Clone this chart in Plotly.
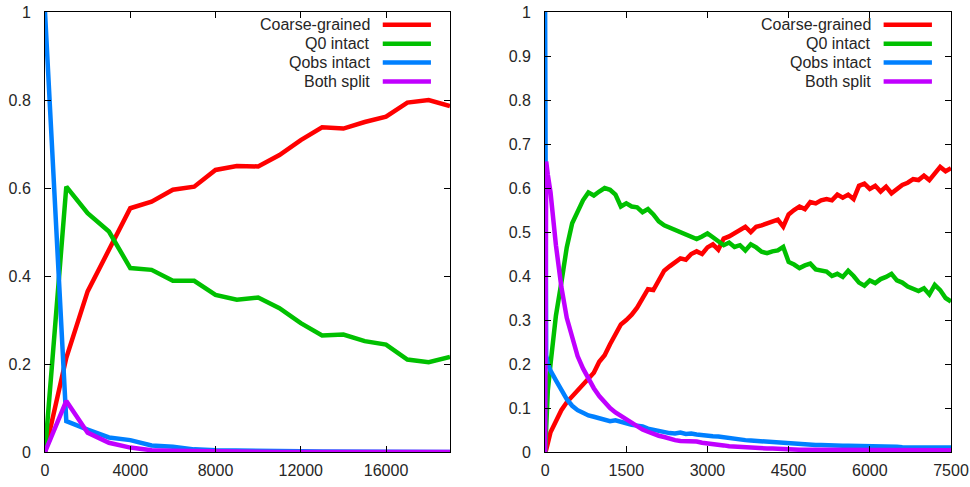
import plotly.graph_objects as go

# ---------------- data ----------------
series_names = ["Coarse-grained", "Q0 intact", "Qobs intact", "Both split"]
series_colors = ["#ff0000", "#00c000", "#0080ff", "#c000ff"]

# left panel
x_left = [0, 1000, 2000, 3000, 4000, 5000, 6000, 7000, 8000, 9000, 10000,
          11000, 12000, 13000, 14000, 15000, 16000, 17000, 18000, 19000]
red_left = [0, 0.214, 0.365, 0.46, 0.554, 0.569, 0.596, 0.603, 0.641, 0.65, 0.649,
            0.675, 0.709, 0.738, 0.735, 0.75, 0.762, 0.794, 0.80, 0.786]
green_left = [0, 0.603, 0.543, 0.501, 0.418, 0.414, 0.389, 0.389, 0.357, 0.346, 0.351,
              0.327, 0.293, 0.265, 0.267, 0.252, 0.244, 0.21, 0.204, 0.216]
blue_left = [1.0, 0.07, 0.051, 0.033, 0.027, 0.015, 0.012, 0.006, 0.004, 0.004, 0.004,
             0.002, 0.0015, 0.001, 0.001, 0.001, 0, 0, 0, 0]
purple_left = [0, 0.116, 0.044, 0.021, 0.01, 0.004, 0.003, 0.002, 0.002, 0.002, 0.001,
               0, 0, 0, 0, 0, 0, 0, 0, 0]

# right panel
x_right = [0, 20, 50] + list(range(100, 7600, 100))
red_right = [0.0, 0.005, 0.02,
             0.045, 0.07, 0.095, 0.113, 0.126, 0.14, 0.152, 0.168, 0.18, 0.205,
             0.22, 0.245, 0.268, 0.29, 0.3, 0.312, 0.328, 0.348, 0.37, 0.368,
             0.39, 0.412, 0.422, 0.432, 0.44, 0.437, 0.45, 0.456, 0.45, 0.465,
             0.472, 0.46, 0.485, 0.49, 0.497, 0.506, 0.512, 0.5, 0.512, 0.515,
             0.52, 0.525, 0.528, 0.512, 0.54, 0.55, 0.558, 0.552, 0.568, 0.565,
             0.572, 0.575, 0.572, 0.585, 0.578, 0.585, 0.575, 0.605, 0.61, 0.598,
             0.605, 0.592, 0.603, 0.588, 0.598, 0.607, 0.612, 0.62, 0.618, 0.628,
             0.618, 0.632, 0.648, 0.638, 0.645]
green_right = [0.0, 0.06, 0.14,
               0.2, 0.31, 0.385, 0.465, 0.52, 0.545, 0.572, 0.59, 0.583, 0.592,
               0.6, 0.596, 0.585, 0.558, 0.565, 0.558, 0.556, 0.545, 0.552, 0.54,
               0.524, 0.515, 0.51, 0.505, 0.5, 0.496, 0.49, 0.484, 0.49, 0.497,
               0.488, 0.48, 0.47, 0.476, 0.466, 0.47, 0.458, 0.472, 0.465, 0.455,
               0.452, 0.456, 0.458, 0.466, 0.432, 0.426, 0.418, 0.424, 0.428, 0.415,
               0.412, 0.41, 0.4, 0.405, 0.398, 0.412, 0.4, 0.385, 0.378, 0.39,
               0.384, 0.393, 0.398, 0.405, 0.39, 0.385, 0.376, 0.37, 0.366, 0.372,
               0.358, 0.38, 0.368, 0.35, 0.342]
blue_right = [1.0, 0.22, 0.2,
              0.185, 0.163, 0.14, 0.12, 0.105, 0.095, 0.089, 0.083, 0.08, 0.076,
              0.073, 0.07, 0.072, 0.068, 0.066, 0.062, 0.06, 0.058, 0.053, 0.05,
              0.048, 0.046, 0.043, 0.042, 0.044, 0.041, 0.042, 0.04, 0.038, 0.038,
              0.036, 0.035, 0.033, 0.032, 0.03, 0.029, 0.027, 0.026, 0.025, 0.024,
              0.023, 0.022, 0.021, 0.022, 0.02, 0.019, 0.019, 0.018, 0.017, 0.016,
              0.016, 0.015, 0.015, 0.015, 0.014, 0.014, 0.014, 0.013, 0.013, 0.013,
              0.012, 0.012, 0.012, 0.012, 0.012, 0.011, 0.011, 0.011, 0.011, 0.011,
              0.01, 0.01, 0.01, 0.01, 0.01]
purple_right = [0.0, 0.66, 0.63,
                0.59, 0.47, 0.375, 0.305, 0.26, 0.218, 0.19, 0.166, 0.145, 0.127,
                0.112, 0.1, 0.09, 0.082, 0.073, 0.066, 0.058, 0.051, 0.046, 0.041,
                0.037, 0.034, 0.03, 0.027, 0.025, 0.025, 0.024, 0.024, 0.021, 0.02,
                0.018, 0.016, 0.015, 0.013, 0.012, 0.012, 0.011, 0.01, 0.01, 0.009,
                0.008, 0.008, 0.007, 0.007, 0.006, 0.005, 0.005, 0.005, 0.005, 0.005,
                0.004, 0.004, 0.004, 0.004, 0.004, 0.004, 0.004, 0.004, 0.004, 0.004,
                0.004, 0.004, 0.004, 0.004, 0.004, 0.004, 0.004, 0.004, 0.004, 0.004,
                0.004, 0.004, 0.004, 0.004, 0.004]

left_tickvals_x = [0, 4000, 8000, 12000, 16000]
right_tickvals_x = [0, 1500, 3000, 4500, 6000, 7500]
left_tickvals_y = [0, 0.2, 0.4, 0.6, 0.8, 1]
right_tickvals_y = [0, 0.1, 0.2, 0.3, 0.4, 0.5, 0.6, 0.7, 0.8, 0.9, 1]

# ---------------- figure ----------------
FONT = "Liberation Sans, Arial, sans-serif"
TXT = "#262626"
LW = 4.5

fig = go.Figure()
left_series = [red_left, green_left, blue_left, purple_left]
right_series = [red_right, green_right, blue_right, purple_right]
for name, col, ys in zip(series_names, series_colors, left_series):
    fig.add_trace(go.Scatter(x=x_left, y=ys, mode="lines", name=name,
                             line=dict(color=col, width=LW), showlegend=False,
                             cliponaxis=False, xaxis="x", yaxis="y"))
for name, col, ys in zip(series_names, series_colors, right_series):
    fig.add_trace(go.Scatter(x=x_right, y=ys, mode="lines", name=name,
                             line=dict(color=col, width=LW), showlegend=False,
                             cliponaxis=False, xaxis="x2", yaxis="y2"))

axis_common = dict(showline=True, linecolor="black", linewidth=1, mirror="ticks",
                   ticks="inside", ticklen=6, tickcolor="black", tickwidth=1,
                   showgrid=False, zeroline=False, automargin=False,
                   tickfont=dict(family=FONT, size=16, color=TXT))

fig.update_layout(
    width=970, height=487,
    margin=dict(l=45, r=19, t=12, b=35),
    paper_bgcolor="white", plot_bgcolor="white",
    showlegend=False,
    xaxis=dict(domain=[0, 0.447], range=[0, 19000], tickvals=left_tickvals_x,
               tickformat="d", anchor="y", ticklabelstandoff=4, **axis_common),
    yaxis=dict(domain=[0, 1], range=[0, 1], tickvals=left_tickvals_y,
               anchor="x", ticklabelstandoff=10, **axis_common),
    xaxis2=dict(domain=[0.552, 1], range=[0, 7500], tickvals=right_tickvals_x,
                tickformat="d", anchor="y2", ticklabelstandoff=4, **axis_common),
    yaxis2=dict(domain=[0, 1], range=[0, 1], tickvals=right_tickvals_y,
                anchor="x2", ticklabelstandoff=10, **axis_common),
)

# gnuplot-style legends (text right-aligned, sample line on the right)
legend_rows = [0.971, 0.928, 0.885, 0.842]
for xr, yr in [("x domain", "y domain"), ("x2 domain", "y2 domain")]:
    for name, col, yy in zip(series_names, series_colors, legend_rows):
        fig.add_annotation(x=0.807, y=yy, xref=xr, yref=yr, text=name,
                           showarrow=False, xanchor="right", yanchor="middle",
                           font=dict(family=FONT, size=16, color=TXT))
        fig.add_shape(type="line", xref=xr, yref=yr, x0=0.834, x1=0.953,
                      y0=yy, y1=yy, line=dict(color=col, width=LW))

fig.write_html("out.html")
